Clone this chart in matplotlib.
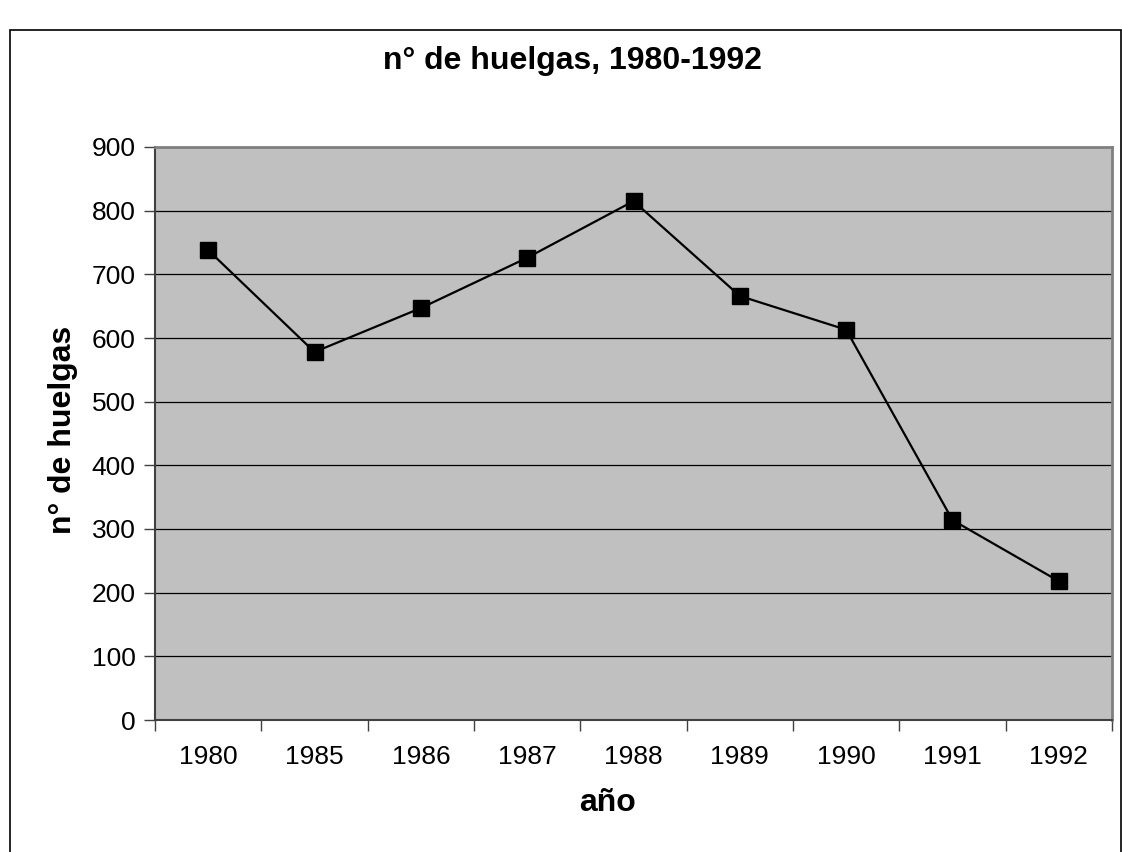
import matplotlib
matplotlib.use("Agg")
import matplotlib.pyplot as plt
from matplotlib.patches import Rectangle
import numpy as np

years = ["1980", "1985", "1986", "1987", "1988", "1989", "1990", "1991", "1992"]
huelgas = [738, 578, 647, 726, 815, 666, 613, 314, 218]

plt.rcParams['font.family'] = ['Liberation Sans', 'DejaVu Sans']

W, H = 1122, 852
fig = plt.figure(figsize=(W / 100, H / 100), dpi=100)
fig.patch.set_facecolor('white')

# outer chart frame
frame = Rectangle((10 / W, -0.1), (1121 - 10) / W, 1.1 - 30 / H,
                  transform=fig.transFigure, fill=False, edgecolor='black',
                  linewidth=1.2, clip_on=False)
fig.patches.append(frame)

ax = fig.add_axes([155 / W, 1 - 720 / H, 957 / W, 573 / H])
ax.set_facecolor('#C0C0C0')

x = np.arange(len(years))
ax.plot(x, huelgas, color='black', linewidth=1.6, marker='s', markersize=11.5,
        markerfacecolor='black', markeredgecolor='black', zorder=3)

ax.set_xlim(-0.5, len(years) - 0.5)
ax.set_ylim(0, 900)
ax.set_yticks(np.arange(0, 901, 100))
ax.yaxis.grid(True, color='black', linewidth=0.9)
ax.set_axisbelow(True)

ax.set_xticks(np.arange(-0.5, len(years), 1.0))
ax.set_xticklabels([])
ax.set_xticks(x, minor=True)
ax.set_xticklabels(years, minor=True)
ax.tick_params(axis='x', which='minor', length=0, pad=18, labelsize=19)
ax.tick_params(axis='x', which='major', length=8, width=1, color='#404040', direction='out')
ax.tick_params(axis='y', length=8, width=1, color='#404040', direction='out', pad=6, labelsize=19)

for s in ['top', 'right']:
    ax.spines[s].set_color('#808080')
    ax.spines[s].set_linewidth(2)
ax.spines['left'].set_color('#404040')
ax.spines['left'].set_linewidth(1.5)
ax.spines['bottom'].set_color('#404040')
ax.spines['bottom'].set_linewidth(1.5)

fig.text(572 / W, 1 - 61 / H, "n° de huelgas, 1980-1992", ha='center', va='center',
         fontsize=23, fontweight='bold')
fig.text(63 / W, 1 - 430 / H, "n° de huelgas", ha='center', va='center',
         rotation=90, fontsize=23, fontweight='bold')
fig.text(607 / W, 1 - 803 / H, "año", ha='center', va='center',
         fontsize=23, fontweight='bold')

fig.savefig("out.png", dpi=100)
